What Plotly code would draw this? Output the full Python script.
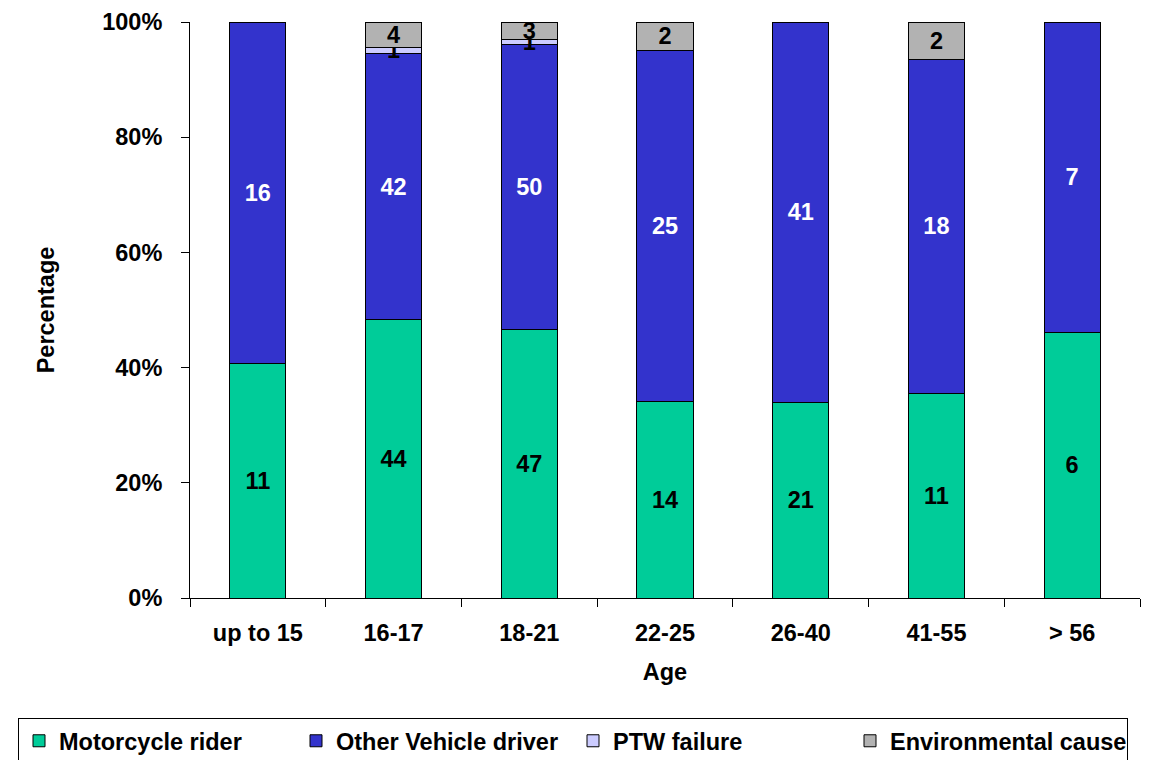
import plotly.graph_objects as go

ages = ["up to 15", "16-17", "18-21", "22-25", "26-40", "41-55", "> 56"]
motorcycle_rider = [11, 44, 47, 14, 21, 11, 6]
other_vehicle_driver = [16, 42, 50, 25, 41, 18, 7]
ptw_failure = [0, 1, 1, 0, 0, 0, 0]
environmental_cause = [0, 4, 3, 2, 0, 2, 0]

series = [
    ("Motorcycle rider", motorcycle_rider, "#00CC99", "black"),
    ("Other Vehicle driver", other_vehicle_driver, "#3333CC", "white"),
    ("PTW failure", ptw_failure, "#CCCCFF", "black"),
    ("Environmental cause", environmental_cause, "#B2B2B2", "black"),
]

FONT = "Liberation Sans, Arial, sans-serif"
FS = 23.5
fig = go.Figure()
for name, vals, color, tcolor in series:
    fig.add_trace(go.Bar(
        x=ages, y=vals, name=name,
        marker=dict(color=color, line=dict(color="black", width=1)),
        text=[str(v) if v else "" for v in vals],
        textposition="inside", insidetextanchor="middle", textangle=0,
        textfont=dict(family=FONT, size=FS, color=tcolor, weight="bold"),
        constraintext="none",
    ))

fig.update_layout(
    barmode="stack", barnorm="percent", bargap=0.587,
    width=1150, height=760,
    margin=dict(l=182, r=18, t=14, b=170, autoexpand=False),
    plot_bgcolor="white", paper_bgcolor="white",
    font=dict(family=FONT, size=FS, color="black", weight="bold"),
    uniformtext=dict(mode="show", minsize=FS),
    showlegend=True,
    legend=dict(
        orientation="h",
        x=-172 / 950, xanchor="left", y=-120 / 576, yanchor="top",
        bordercolor="black", borderwidth=1, entrywidth=232,
        font=dict(family=FONT, size=FS, color="black", weight="bold"),
        traceorder="normal",
    ),
)
fig.update_xaxes(
    showline=True, linecolor="black", linewidth=1, automargin=False,
    ticks="outside", tickson="boundaries", ticklen=8, tickcolor="black",
    ticklabelstandoff=14,
    title=dict(text="Age", standoff=18, font=dict(size=FS)),
    tickfont=dict(size=FS),
)
fig.update_yaxes(
    range=[0, 100], tickvals=[0, 20, 40, 60, 80, 100],
    ticktext=["0%", "20%", "40%", "60%", "80%", "100%"],
    showline=True, linecolor="black", linewidth=1, automargin=False,
    ticks="outside", ticklen=8, tickcolor="black", showgrid=False,
    zeroline=False, ticklabelstandoff=14,
    title=dict(text="Percentage", standoff=40, font=dict(size=FS)),
    tickfont=dict(size=FS),
)
fig.write_html("out.html")
